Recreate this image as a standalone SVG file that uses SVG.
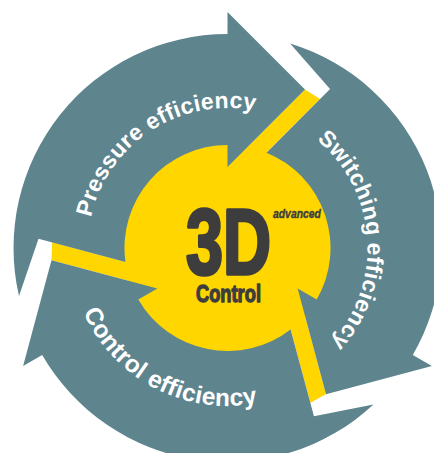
<svg xmlns="http://www.w3.org/2000/svg" width="434" height="453" viewBox="0 0 434 453">
<style>
.arrow{fill:#5e848e}
.yel{fill:#ffd600}
.lbl{font-family:"Liberation Sans",Arial,sans-serif;font-weight:bold;font-size:23px;fill:#ffffff;letter-spacing:0.3px}
.core{font-family:"Liberation Sans",Arial,sans-serif;font-weight:bold;fill:#3d3d3d;stroke:#3d3d3d;stroke-linejoin:round}
</style>
<defs>
<path id="arrowShape" d="M19,296.1 A214,214 0 0 1 227.5,34 L227.5,12 L305,89.5 L227.5,167 L227.5,145 A103,103 0 0 0 125.4,261.9 L38.5,238.7 Z"/>
<polygon id="bar" points="305,89.5 320.1,98.9 238.8,180.2 223.7,170.8"/>
<path id="tpP" d="M95.94,295.88 A140,140 0 0 1 324.76,147.3"/>
<path id="tpS" d="M249.4,109.7 A140,140 0 0 1 268.4,381.9"/>
<path id="tpC" d="M74.9,207.1 A158,158 0 0 0 348.5,349.6"/>
</defs>
<rect width="434" height="453" fill="#ffffff"/>
<g id="spokes">
<use href="#bar" class="yel"/>
<use href="#bar" class="yel" transform="rotate(120 227.5 248)"/>
<use href="#bar" class="yel" transform="rotate(240 227.5 248)"/>
</g>
<g id="hub">
<circle cx="227.5" cy="248" r="104" class="yel"/>
<text class="core" transform="translate(186 274) scale(0.723 1)" font-size="92" stroke-width="3.6">3D</text>
<text class="core" transform="translate(273 218) scale(0.77 1)" font-size="13.5" font-weight="normal" font-style="italic" stroke-width="0.4">advanced</text>
<text class="core" transform="translate(196 302) scale(0.762 1)" font-size="24" stroke-width="1.3">Control</text>
</g>
<g id="pressure">
<use href="#arrowShape" class="arrow"/>
<text class="lbl"><textPath href="#tpP" startOffset="50%" text-anchor="middle">Pressure efficiency</textPath></text>
</g>
<g id="switching">
<use href="#arrowShape" class="arrow" transform="rotate(120 227.5 248)"/>
<text class="lbl"><textPath href="#tpS" startOffset="50%" text-anchor="middle">Switching efficiency</textPath></text>
</g>
<g id="control">
<use href="#arrowShape" class="arrow" transform="rotate(240 227.5 248)"/>
<text class="lbl" style="font-size:24.5px"><textPath href="#tpC" startOffset="50%" text-anchor="middle">Control efficiency</textPath></text>
</g>
</svg>
